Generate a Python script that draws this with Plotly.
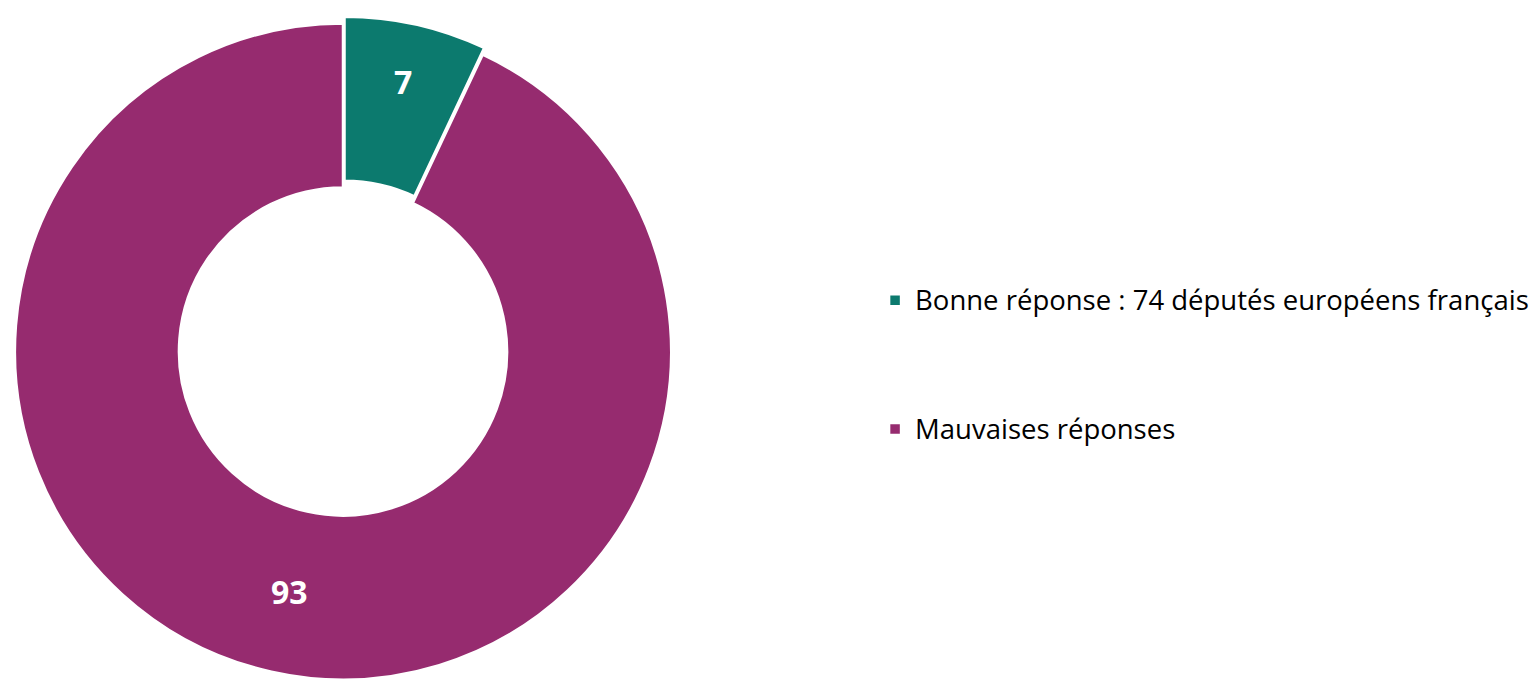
import plotly.graph_objects as go

# Data
labels = ["Bonne réponse : 74 députés européens français", "Mauvaises réponses"]
values = [7, 93]
colors = ["#0C7A6E", "#962B6F"]
pulls = [0.021, 0]

# legend labels: text drawn a little larger than the legend's base size;
# extra blank lines on the first entry create the wide gap between legend rows
legend_text_size = 27.5
legend_labels = [
    f'<span style="font-size:{legend_text_size}px">{labels[0]}</span><br> <br> <br> ',
    f'<span style="font-size:{legend_text_size}px">{labels[1]}</span>',
]

fig = go.Figure(
    go.Pie(
        labels=legend_labels,
        values=values,
        sort=False,
        direction="clockwise",
        rotation=0,
        hole=0.5,
        pull=pulls,
        marker=dict(colors=colors, line=dict(color="white", width=2.5)),
        textinfo="value",
        textposition="inside",
        insidetextorientation="horizontal",
        textfont=dict(family="Open Sans", size=32, color="white", weight="bold"),
        domain=dict(x=[0, 0.43535], y=[0, 1]),
        hoverinfo="value",
    )
)

fig.update_layout(
    width=1539,
    height=687,
    margin=dict(l=0, r=0, t=0, b=0),
    paper_bgcolor="white",
    plot_bgcolor="white",
    showlegend=True,
    legend=dict(
        x=0.5634,
        xanchor="left",
        y=0.6070,
        yanchor="top",
        valign="top",
        font=dict(family="Open Sans", size=24.2, color="#000000"),
        bgcolor="rgba(0,0,0,0)",
    ),
)

fig.write_html("out.html")
